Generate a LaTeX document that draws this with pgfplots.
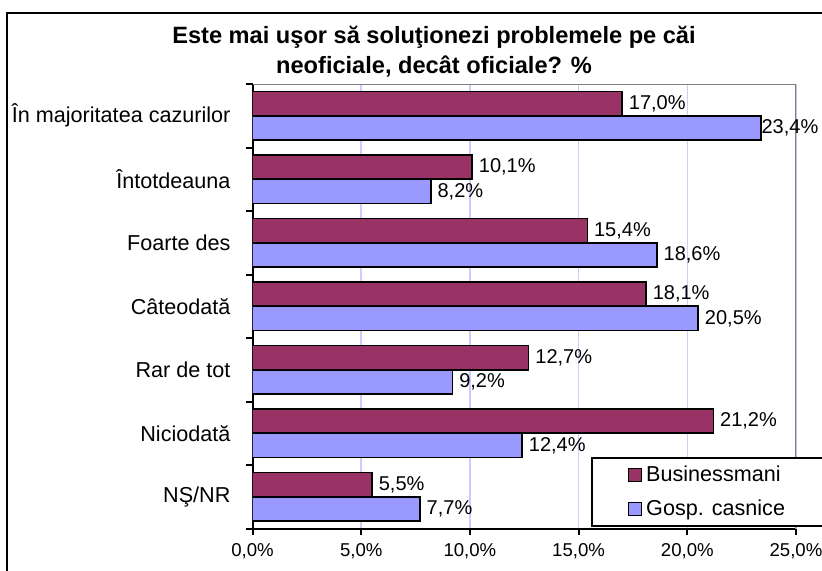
\documentclass[border=0pt]{standalone}
\usepackage{pgfplots}
\pgfplotsset{compat=1.18}
\usepackage{fontspec}
\setmainfont{Liberation Sans}
\definecolor{biz}{HTML}{993366}
\definecolor{gosp}{HTML}{9999FF}
\definecolor{gridc}{HTML}{CCCCFF}
\begin{document}
\begin{tikzpicture}
\useasboundingbox (0,0) rectangle (411pt,285pt);
\draw[line width=0.8pt] (3.6pt,-20pt) rectangle (430pt,278.4pt);
\node[anchor=base, inner sep=0pt, font=\fontsize{11.8}{12}\selectfont\bfseries] at (217pt,263.5pt) {Este mai uşor să soluţionezi problemele pe căi};
\node[anchor=base, inner sep=0pt, font=\fontsize{11.8}{12}\selectfont\bfseries] at (217pt,248.3pt) {neoficiale, decât oficiale? \%};
\begin{axis}[
  at={(126.25pt,20.75pt)}, anchor=south west,
  width=271.75pt, height=222.25pt, scale only axis,
  xbar, bar width=0.38,
  xmin=0, xmax=25, ymin=-0.5, ymax=6.5,
  axis x line*=bottom, axis y line*=left,
  axis line style={-, line width=1pt, black},
  tick align=outside,
  major tick length=3pt, minor tick length=3.5pt,
  xtick={0,5,10,15,20,25},
  xticklabels={{0,0\%},{5,0\%},{10,0\%},{15,0\%},{20,0\%},{25,0\%}},
  xticklabel style={font=\fontsize{9.3}{11}\selectfont, yshift=-1pt},
  x tick style={black, line width=1pt},
  ytick={0,1,2,3,4,5,6},
  yticklabels={NŞ/NR,Niciodată,Rar de tot,Câteodată,Foarte des,Întotdeauna,În majoritatea cazurilor},
  yticklabel style={font=\fontsize{10.8}{12}\selectfont, xshift=-4.5pt},
  major y tick style={draw=none},
  minor ytick={-0.5,0.5,1.5,2.5,3.5,4.5,5.5,6.5},
  minor y tick style={black, line width=1pt},
  xmajorgrids, major x grid style={gridc, line width=0.8pt},
  point meta=x,
  visualization depends on={x \as \xval},
  nodes near coords={\pgfmathprintnumber[fixed,fixed zerofill,precision=1,use comma,assume math mode=true]{\pgfplotspointmeta}\%},
  every node near coord/.append style={font=\fontsize{10}{12}\selectfont, anchor=west, inner xsep=3pt, black,
     xshift={\xval>23 ? -3.2 : 0}},
  legend style={at={(0.6228,0.1609)}, anchor=north west, draw=black, line width=1pt,
     font=\fontsize{10.8}{12}\selectfont, inner xsep=18pt, inner ysep=2pt, row sep=3.5pt,
     legend cell align=left},
  legend image code/.code={\draw[#1, line width=0.6pt] (0pt,-3.2pt) rectangle (6.5pt,3.3pt);},
]
\addplot[fill=biz, draw=black, line width=0.8pt, bar shift=0.19] coordinates {
  (5.5,0) (21.2,1) (12.7,2) (18.1,3) (15.4,4) (10.1,5) (17.0,6)};
\addplot[fill=gosp, draw=black, line width=0.8pt, bar shift=-0.19] coordinates {
  (7.7,0) (12.4,1) (9.2,2) (20.5,3) (18.6,4) (8.2,5) (23.4,6)};
\draw[gray, line width=0.8pt] (rel axis cs:0,1) -- (rel axis cs:1,1) -- (rel axis cs:1,0);
\legend{Businessmani, Gosp. casnice}
\end{axis}
\end{tikzpicture}
\end{document}
